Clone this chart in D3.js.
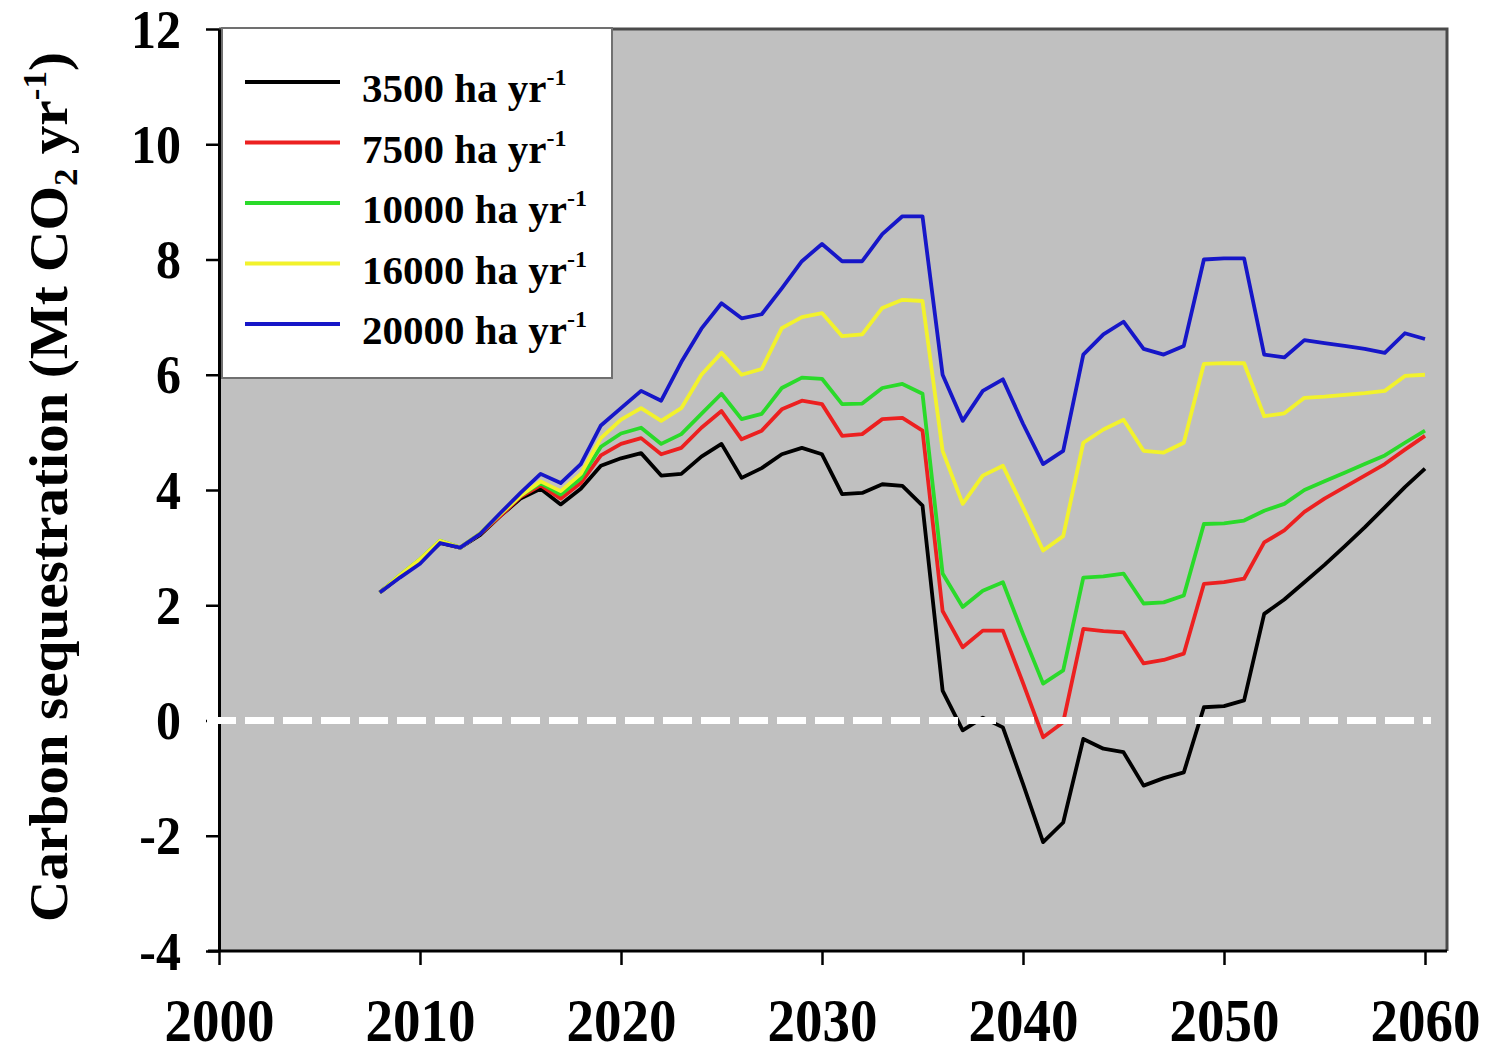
<!DOCTYPE html>
<html>
<head>
<meta charset="utf-8">
<script src="https://cdn.jsdelivr.net/npm/d3@7"></script>
<style>
  body { margin: 0; background: #fff; }
  svg text { font-family: "Liberation Serif", "Times New Roman", serif; font-weight: bold; fill: #000; }
</style>
</head>
<body>
<svg id="chart" width="1488" height="1054"></svg>
<script>
const years = [2008, 2009, 2010, 2011, 2012, 2013, 2014, 2015, 2016, 2017, 2018, 2019, 2020,
  2021, 2022, 2023, 2024, 2025, 2026, 2027, 2028, 2029, 2030, 2031, 2032, 2033, 2034, 2035,
  2036, 2037, 2038, 2039, 2040, 2041, 2042, 2043, 2044, 2045, 2046, 2047, 2048, 2049, 2050,
  2051, 2052, 2053, 2054, 2055, 2056, 2057, 2058, 2059, 2060];

// Mt CO2 per year
const rate3500 = [2.22, 2.5, 2.75, 3.08, 3.0, 3.22, 3.55, 3.85, 4.02, 3.75, 4.02, 4.42, 4.55,
  4.64, 4.25, 4.28, 4.58, 4.8, 4.21, 4.38, 4.62, 4.73, 4.62, 3.93, 3.95, 4.1, 4.07, 3.73,
  0.52, -0.17, 0.05, -0.12, -1.1, -2.11, -1.77, -0.32, -0.49, -0.55, -1.13, -1.0, -0.9, 0.23, 0.25,
  0.35, 1.85, 2.1, 2.4, 2.7, 3.02, 3.35, 3.7, 4.05, 4.37];
const rate7500 = [2.22, 2.5, 2.78, 3.1, 3.0, 3.24, 3.55, 3.88, 4.08, 3.85, 4.12, 4.6, 4.8,
  4.9, 4.62, 4.73, 5.08, 5.37, 4.88, 5.03, 5.4, 5.55, 5.49, 4.94, 4.97, 5.23, 5.25, 5.03,
  1.9, 1.27, 1.56, 1.56, 0.65, -0.29, -0.03, 1.59, 1.55, 1.53, 0.99, 1.05, 1.16, 2.37, 2.4,
  2.46, 3.09, 3.3, 3.62, 3.85, 4.05, 4.25, 4.45, 4.7, 4.94];
const rate10000 = [2.22, 2.52, 2.8, 3.12, 3.0, 3.25, 3.58, 3.9, 4.12, 3.92, 4.2, 4.75, 4.98,
  5.08, 4.8, 4.97, 5.32, 5.67, 5.23, 5.32, 5.77, 5.95, 5.93, 5.49, 5.5, 5.77, 5.84, 5.67,
  2.55, 1.97, 2.25, 2.4, 1.5, 0.64, 0.87, 2.48, 2.5, 2.55, 2.03, 2.05, 2.17, 3.41, 3.42,
  3.47, 3.64, 3.76, 4.0, 4.15, 4.3, 4.45, 4.6, 4.82, 5.03];
const rate16000 = [2.22, 2.52, 2.8, 3.12, 3.0, 3.25, 3.58, 3.9, 4.15, 3.98, 4.28, 4.9, 5.22,
  5.42, 5.2, 5.42, 6.0, 6.38, 6.0, 6.1, 6.81, 7.0, 7.07, 6.67, 6.7, 7.16, 7.3, 7.28,
  4.68, 3.76, 4.25, 4.42, 3.7, 2.95, 3.2, 4.82, 5.05, 5.22, 4.68, 4.65, 4.82, 6.19, 6.2,
  6.2, 5.28, 5.33, 5.6, 5.62, 5.65, 5.68, 5.72, 5.98, 6.0];
const rate20000 = [2.22, 2.48, 2.72, 3.08, 3.0, 3.24, 3.6, 3.95, 4.28, 4.12, 4.45, 5.12, 5.42,
  5.72, 5.55, 6.22, 6.8, 7.24, 6.98, 7.05, 7.5, 7.97, 8.27, 7.97, 7.97, 8.44, 8.75, 8.75,
  6.0, 5.2, 5.72, 5.92, 5.15, 4.45, 4.68, 6.35, 6.7, 6.92, 6.45, 6.35, 6.5, 8.0, 8.02,
  8.02, 6.35, 6.3, 6.6, 6.55, 6.5, 6.45, 6.38, 6.72, 6.62];

const seriesLabels = ["3500", "7500", "10000", "16000", "20000"];
const seriesColors = ["#000000", "#ec2020", "#2ada2a", "#f2f22c", "#1616c8"];
const seriesValues = [rate3500, rate7500, rate10000, rate16000, rate20000];

const xTicks = [2000, 2010, 2020, 2030, 2040, 2050, 2060];
const yTicks = [-4, -2, 0, 2, 4, 6, 8, 10, 12];

const svg = d3.select("#chart");

const x = d3.scaleLinear().domain([2000, 2060]).range([219, 1425]);
const y = d3.scaleLinear().domain([-4, 12]).range([951, 29]);
const plotRight = 1447;

// grey plot area with darker frame on top and right
svg.append("rect")
  .attr("x", x(2000))
  .attr("y", y(12))
  .attr("width", plotRight - x(2000))
  .attr("height", y(-4) - y(12))
  .attr("fill", "#c0c0c0");

svg.append("path")
  .attr("d", `M${x(2000)},${y(12)}H${plotRight}V${y(-4)}`)
  .attr("fill", "none")
  .attr("stroke", "#4a4a4a")
  .attr("stroke-width", 3);

// series lines
const series = seriesLabels.map((label, i) => ({
  label: label,
  color: seriesColors[i],
  values: years.map((yr, j) => ({ year: yr, value: seriesValues[i][j] })),
}));

const line = d3.line()
  .x((d) => x(d.year))
  .y((d) => y(d.value));

svg.append("g")
  .selectAll("path")
  .data(series)
  .join("path")
  .attr("d", (d) => line(d.values))
  .attr("fill", "none")
  .attr("stroke", (d) => d.color)
  .attr("stroke-width", 3.8)
  .attr("stroke-linejoin", "round");

// y axis
const yAxis = d3.axisLeft(y)
  .tickValues(yTicks)
  .tickSize(13)
  .tickSizeOuter(0)
  .tickFormat((d) => String(d));

const gy = svg.append("g")
  .attr("transform", `translate(${x(2000)},0)`)
  .call(yAxis);
gy.select(".domain").attr("stroke", "#000").attr("stroke-width", 3);
gy.selectAll(".tick line").attr("stroke", "#000").attr("stroke-width", 2.5);
gy.selectAll(".tick text")
  .attr("x", null)
  .attr("dy", null)
  .attr("text-anchor", "end")
  .attr("transform", "translate(-38,18) scale(1,1.08)")
  .style("font-size", "50px");

// x axis
const xAxis = d3.axisBottom(x)
  .tickValues(xTicks)
  .tickSize(14)
  .tickSizeOuter(0)
  .tickFormat((d) => String(d));

const gx = svg.append("g")
  .attr("transform", `translate(0,${y(-4)})`)
  .call(xAxis);
gx.select(".domain").remove();
gx.selectAll(".tick line").attr("stroke", "#000").attr("stroke-width", 2.5);
gx.selectAll(".tick text")
  .attr("y", null)
  .attr("dy", null)
  .attr("transform", "translate(0,90) scale(1,1.12)")
  .style("font-size", "55px");

svg.append("line")
  .attr("x1", x(2000) - 11)
  .attr("x2", plotRight)
  .attr("y1", y(-4))
  .attr("y2", y(-4))
  .attr("stroke", "#000")
  .attr("stroke-width", 3);

// dashed zero line
svg.append("line")
  .attr("x1", 207)
  .attr("x2", 1431)
  .attr("y1", y(0))
  .attr("y2", y(0))
  .attr("stroke", "#fff")
  .attr("stroke-width", 7)
  .attr("stroke-dasharray", "29,9");

// y axis title
const title = svg.append("text")
  .attr("transform", "translate(67,487) rotate(-90) scale(1.06,1)")
  .attr("text-anchor", "middle")
  .style("font-size", "54px");
title.append("tspan").text("Carbon sequestration (Mt CO");
title.append("tspan").attr("dy", 10).style("font-size", "33px").text("2");
title.append("tspan").attr("dy", -10).text(" yr");
title.append("tspan").attr("dy", -21).style("font-size", "33px").text("-1");
title.append("tspan").attr("dy", 21).text(")");

// legend
const legend = svg.append("g").attr("class", "legend");

legend.append("rect")
  .attr("x", 222)
  .attr("y", 28)
  .attr("width", 390)
  .attr("height", 350)
  .attr("fill", "#fff")
  .attr("stroke", "#707070")
  .attr("stroke-width", 2);

const rows = legend.selectAll("g.row")
  .data(series)
  .join("g")
  .attr("class", "row")
  .attr("transform", (d, i) => `translate(0,${82 + i * 60.5})`);

rows.append("line")
  .attr("x1", 245)
  .attr("x2", 340)
  .attr("stroke", (d) => d.color)
  .attr("stroke-width", 3.8);

const labels = rows.append("text")
  .attr("x", 362)
  .attr("y", 20)
  .style("font-size", "41px");
labels.append("tspan").text((d) => `${d.label} ha yr`);
labels.append("tspan").attr("dy", -17).style("font-size", "24px").text("-1");
</script>
</body>
</html>
